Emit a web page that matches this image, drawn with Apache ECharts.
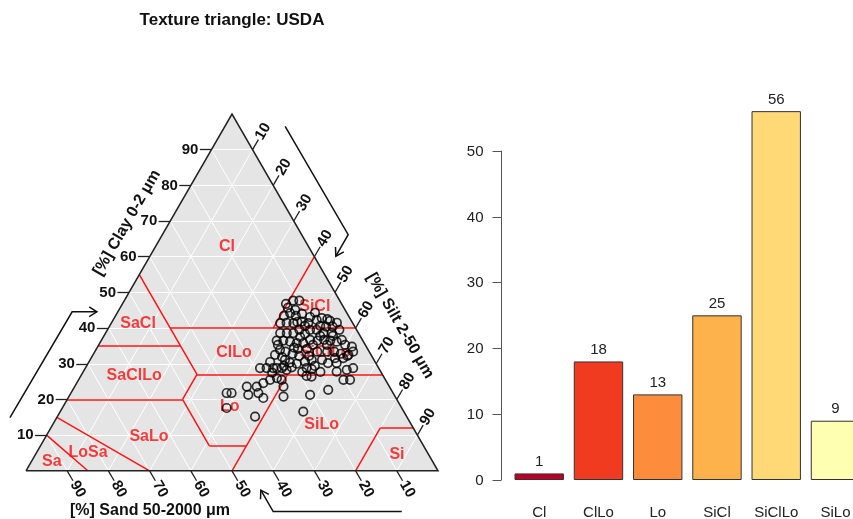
<!DOCTYPE html>
<html>
<head>
<meta charset="utf-8">
<script src="https://cdn.jsdelivr.net/npm/echarts@6/dist/echarts.min.js"></script>
<style>
  html, body { margin: 0; padding: 0; background: #fff; }
  #chart { width: 853px; height: 519px; }
</style>
</head>
<body>
<div id="chart"></div>
<script>
// ---- Class counts (bar chart) ----
const classNames  = ['Cl', 'ClLo', 'Lo', 'SiCl', 'SiClLo', 'SiLo'];
const classCounts = [1, 18, 13, 25, 56, 9];
const barColors   = ['#BD0026', '#F03B20', '#FD8D3C', '#FEB24C', '#FED976', '#FFFFB2'];
const countTicks  = [0, 10, 20, 30, 40, 50];

// ---- Soil samples, % clay and % silt (sand = 100 - clay - silt) ----
const sampleClay = [
  46.8,
  47.7, 47.7, 44.2, 43.4, 41.4, 41.5, 41.4, 41.8, 41.4, 42.3, 42.8, 42.5, 40.6, 40.4, 40.4,
  45.7, 45.1, 44.0, 43.1, 44.3, 42.0, 41.5, 40.6, 41.7, 43.4,
  39.5, 38.6, 38.6, 39.5, 39.5, 38.4, 39.5, 38.6, 38.6, 38.6,
  36.5, 36.2, 35.8, 35.8, 36.7, 36.5, 36.7, 36.5, 36.2, 35.3, 34.8,
  32.8, 32.2, 30.0,
  30.6, 31.1, 33.4, 33.4, 33.4, 32.8, 32.2, 33.4,
  28.8, 28.5, 27.8, 28.3, 28.8,
  30.2, 31.6, 32.5,
  37.5, 34.2, 35.3, 37.8, 35.3, 37.8, 34.2, 31.1, 29.4, 30.2, 27.7, 36.7, 27.7, 34.5, 32.2, 31.6,
  36.5, 33.9, 33.4, 31.1, 30.3, 28.8, 28.8, 28.3, 29.0, 28.8, 28.8, 28.8, 27.5, 35.3, 31.9, 32.5, 30.5, 29.4,
  23.6, 21.3, 21.8, 24.6, 25.5, 26.0, 25.5, 20.4, 15.2, 21.8, 21.8, 17.6, 23.6,
  26.6, 26.4, 23.6, 20.8, 21.3, 16.6, 22.7, 25.5, 25.5
];
const sampleSilt = [
  39.7,
  41.0, 42.5, 42.0, 43.8, 41.0, 42.5, 44.2, 46.0, 47.8, 49.4, 50.4, 51.9, 51.1, 52.6, 54.2,
  40.7, 42.8, 45.0, 47.4, 48.0, 52.8, 54.7, 47.4, 45.0, 40.9,
  56.3, 54.9, 52.9, 50.8, 49.2, 48.5, 46.6, 45.6, 44.0, 42.4,
  44.2, 46.0, 47.8, 49.4, 50.6, 52.5, 54.0, 55.6, 57.3, 59.8, 61.7,
  48.3, 50.2, 50.7,
  52.4, 53.8, 54.0, 56.4, 58.1, 60.0, 61.9, 62.7,
  53.7, 55.1, 61.5, 63.7, 65.0,
  60.3, 61.2, 62.0,
  47.8, 51.1, 52.0, 52.5, 55.4, 55.6, 48.9, 56.3, 55.4, 58.2, 53.2, 58.3, 57.6, 47.8, 52.6, 59.2,
  42.6, 44.7, 46.3, 47.3, 48.9, 46.5, 47.7, 49.1, 50.0, 42.4, 44.0, 45.6, 46.0, 43.5, 46.2, 44.2, 44.0, 47.9,
  41.8, 43.3, 45.5, 45.3, 46.5, 47.9, 49.3, 47.4, 48.0, 37.8, 39.0, 39.9, 44.2,
  54.8, 56.1, 50.7, 52.1, 58.3, 59.0, 62.0, 65.9, 64.3
];

// ---- USDA class boundaries, each segment as [clay, silt] end points ----
const usdaBoundaries = [
  [[55, 0], [35, 20]],
  [[35, 0], [35, 20]],
  [[40, 15], [40, 60]],
  [[40, 40], [60, 40]],
  [[35, 20], [27, 28]],
  [[27, 28], [27, 73]],
  [[27, 28], [20, 28]],
  [[20, 0], [20, 28]],
  [[20, 28], [7, 41]],
  [[7, 41], [7, 50]],
  [[0, 50], [27, 50]],
  [[0, 80], [12, 80]],
  [[12, 80], [12, 88]],
  [[15, 0], [0, 30]],
  [[10, 0], [0, 15]]
];

// ---- Class name positions, [clay, silt] ----
const classLabelNames = ['Cl', 'SiCl', 'SaCl', 'ClLo', 'SiClLo', 'SaClLo', 'Lo', 'SaLo', 'SiLo', 'LoSa', 'Sa', 'Si'];
const classLabelClay  = [62.8, 46.0, 41.2, 33.0, 33.0, 26.7, 17.9, 9.5, 12.9, 5.1, 2.5, 4.5];
const classLabelSilt  = [17.4, 47.1, 6.6, 34.0, 56.1, 12.9, 40.5, 25.1, 65.3, 12.5, 5.0, 87.8];

// ---- Triangle axis ticks (%) ----
const triTicks = [10, 20, 30, 40, 50, 60, 70, 80, 90];

const FONT = '"Liberation Sans", Arial, sans-serif';
const H = Math.sqrt(3) / 2;
// ternary composition (clay, silt) -> plane coordinates of the triangle
function tern(clay, silt) { return [silt + clay / 2, clay * H]; }

const TICK = 2.8;

// white reference grid at every 10 %
const gridSegs = [];
triTicks.forEach(v => {
  gridSegs.push({ coords: [tern(v, 0), tern(v, 100 - v)] });
  gridSegs.push({ coords: [tern(0, v), tern(100 - v, v)] });
  gridSegs.push({ coords: [tern(0, 100 - v), tern(100 - v, 0)] });
});

const boundarySegs = usdaBoundaries.map(s => ({ coords: [tern(s[0][0], s[0][1]), tern(s[1][0], s[1][1])] }));

// tick marks on the three edges
const tickSegs = [];
const clayTickEnds = [], sandTickEnds = [], siltTickEnds = [];
triTicks.forEach(v => {
  const pc = tern(v, 0);
  const ec = [pc[0] - TICK, pc[1]];
  tickSegs.push({ coords: [pc, ec] }); clayTickEnds.push(ec);
  const ps = tern(0, 100 - v);
  const es = [ps[0] + TICK / 2, ps[1] - TICK * H];
  tickSegs.push({ coords: [ps, es] }); sandTickEnds.push(es);
  const pt = tern(100 - v, v);
  const et = [pt[0] + TICK / 2, pt[1] + TICK * H];
  tickSegs.push({ coords: [pt, et] }); siltTickEnds.push(et);
});

// reading-direction arrows beside each edge
const arrowPaths = [
  [[-3.9, 12.9], [11.2, 38.6], [17.2, 38.6]],
  [[62.9, 83.6], [78.2, 57.3], [75.2, 52.1]],
  [[91.2, -9.9], [60.0, -9.9], [57.0, -4.7]]
];
const arrowSegs = [];
arrowPaths.forEach(p => {
  arrowSegs.push({ coords: p });
  const a = p[p.length - 2], b = p[p.length - 1];
  const dx = b[0] - a[0], dy = b[1] - a[1];
  const len = Math.hypot(dx, dy);
  const ux = dx / len, uy = dy / len;
  const ang = 32 * Math.PI / 180, L = 2.2;
  const arm = s => [b[0] - L * (ux * Math.cos(s * ang) - uy * Math.sin(s * ang)),
                    b[1] - L * (ux * Math.sin(s * ang) + uy * Math.cos(s * ang))];
  arrowSegs.push({ coords: [arm(1), b, arm(-1)] });
});

const samplePoints = sampleClay.map((c, i) => tern(c, sampleSilt[i]));
const classLabelData = classLabelNames.map((n, i) => ({ name: n, value: tern(classLabelClay[i], classLabelSilt[i]) }));

const chart = echarts.init(document.getElementById('chart'), null, { renderer: 'canvas' });

const BAR_LEFT = 509.6;
const option = {
  animation: false,
  grid: [
    { left: 26, top: 114, width: 412, height: 412 * H, outerBoundsMode: 'none' },
    { left: BAR_LEFT, top: 96.4, width: 355.5, height: 383.6, outerBoundsMode: 'none' }
  ],
  xAxis: [
    { gridIndex: 0, type: 'value', min: 0, max: 100, show: false },
    { gridIndex: 1, type: 'category', data: classNames,
      axisLine: { show: false }, axisTick: { show: false },
      axisLabel: { interval: 0, fontSize: 15, color: '#222', margin: 25, fontFamily: FONT } }
  ],
  yAxis: [
    { gridIndex: 0, type: 'value', min: 0, max: 100 * H, show: false },
    { gridIndex: 1, type: 'value', min: 0, max: 58.24, show: false }
  ],
  series: [
    { type: 'line', xAxisIndex: 0, yAxisIndex: 0, z: 1, silent: true, symbol: 'none',
      data: [tern(0, 0), tern(100, 0), tern(0, 100)],
      lineStyle: { width: 0 }, areaStyle: { color: '#E5E5E5', opacity: 1 } },
    { type: 'lines', coordinateSystem: 'cartesian2d', xAxisIndex: 0, yAxisIndex: 0, z: 2, silent: true,
      data: gridSegs, lineStyle: { color: '#FFFFFF', width: 1, opacity: 1, curveness: 0 } },
    { type: 'lines', coordinateSystem: 'cartesian2d', xAxisIndex: 0, yAxisIndex: 0, z: 3, silent: true,
      data: boundarySegs, lineStyle: { color: '#FF1414', width: 1.5, opacity: 1, curveness: 0 } },
    { type: 'lines', coordinateSystem: 'cartesian2d', xAxisIndex: 0, yAxisIndex: 0, z: 4, silent: true,
      polyline: true, clip: false,
      data: [{ coords: [tern(0, 0), tern(0, 100), tern(100, 0), tern(0, 0)] }],
      lineStyle: { color: '#222', width: 1.5, opacity: 1 } },
    { type: 'lines', coordinateSystem: 'cartesian2d', xAxisIndex: 0, yAxisIndex: 0, z: 4, silent: true,
      clip: false, data: tickSegs, lineStyle: { color: '#222', width: 1.3, opacity: 1, curveness: 0 } },
    { type: 'lines', coordinateSystem: 'cartesian2d', xAxisIndex: 0, yAxisIndex: 0, z: 4, silent: true,
      polyline: true, clip: false, data: arrowSegs, lineStyle: { color: '#111', width: 1.5, opacity: 1 } },
    { type: 'scatter', xAxisIndex: 0, yAxisIndex: 0, z: 5, silent: true, clip: false,
      symbolSize: 1, itemStyle: { color: 'rgba(0,0,0,0)' },
      data: classLabelData,
      label: { show: true, position: 'inside', formatter: p => p.name,
               color: '#F81010', fontWeight: 'bold', fontSize: 16, fontFamily: FONT } },
    { type: 'scatter', xAxisIndex: 0, yAxisIndex: 0, z: 6, silent: true, clip: false,
      symbol: 'circle', symbolSize: 8.5, data: samplePoints,
      itemStyle: { color: 'rgba(0,0,0,0)', borderColor: '#000', borderWidth: 1.7 } },
    { type: 'bar', xAxisIndex: 1, yAxisIndex: 1, z: 3, barWidth: '83.4%',
      data: classCounts.map((v, i) => ({ value: v, itemStyle: { color: barColors[i] } })),
      itemStyle: { borderColor: '#333', borderWidth: 1 },
      label: { show: true, position: 'top', distance: 4, fontSize: 15, color: '#222', fontFamily: FONT } }
  ]
};
chart.setOption(option);

// ---- texts and the count axis, placed through the chart's own scales ----
const px = p => chart.convertToPixel({ gridIndex: 0 }, p);
const elements = [];
function text(pos, str, opts) {
  elements.push({
    type: 'text', x: pos[0], y: pos[1], rotation: opts.rotation || 0, silent: true,
    style: { text: str, fill: opts.fill || '#111', font: opts.font,
             textAlign: opts.align || 'center', textVerticalAlign: 'middle',
             align: opts.align || 'center', verticalAlign: 'middle' }
  });
}
const tickFont = 'bold 15px ' + FONT;
const titleFont = 'bold 16px ' + FONT;

triTicks.forEach((v, i) => {
  const c = clayTickEnds[i];
  text(px([c[0] - 0.35, c[1]]), String(v), { font: tickFont, align: 'right' });
  const s = sandTickEnds[i];
  text(px([s[0] + 0.15, s[1] - 0.26]), String(v), { font: tickFont, align: 'left', rotation: -Math.PI / 3 });
  const t = siltTickEnds[i];
  text(px([t[0] + 0.15, t[1] + 0.26]), String(v), { font: tickFont, align: 'left', rotation: Math.PI / 3 });
});

text(px([24.5, 60.2]), '[%] Clay 0-2 \u03bcm', { font: titleFont, rotation: Math.PI / 3 });
text(px([90.8, 35.2]), '[%] Silt 2-50 \u03bcm', { font: titleFont, rotation: -Math.PI / 3 });
text(px([30.1, -9.7]), '[%] Sand 50-2000 \u03bcm', { font: titleFont });
text([232, 20], 'Texture triangle: USDA', { font: 'bold 17px ' + FONT });

// count axis: line from 0 to 50 with outward ticks
const yPx = v => chart.convertToPixel({ yAxisIndex: 1 }, v);
const axisX = Math.round(BAR_LEFT - 9) + 0.5;
elements.push({ type: 'line', silent: true,
  shape: { x1: axisX, y1: yPx(countTicks[0]), x2: axisX, y2: yPx(countTicks[countTicks.length - 1]) },
  style: { stroke: '#555', lineWidth: 1 } });
countTicks.forEach(v => {
  const y = Math.round(yPx(v)) + 0.5;
  elements.push({ type: 'line', silent: true, shape: { x1: axisX - 9, y1: y, x2: axisX, y2: y },
    style: { stroke: '#555', lineWidth: 1 } });
  text([axisX - 18, y], String(v), { font: '15px ' + FONT, align: 'right', fill: '#222' });
});

chart.setOption({ graphic: { elements: elements } });
</script>
</body>
</html>
